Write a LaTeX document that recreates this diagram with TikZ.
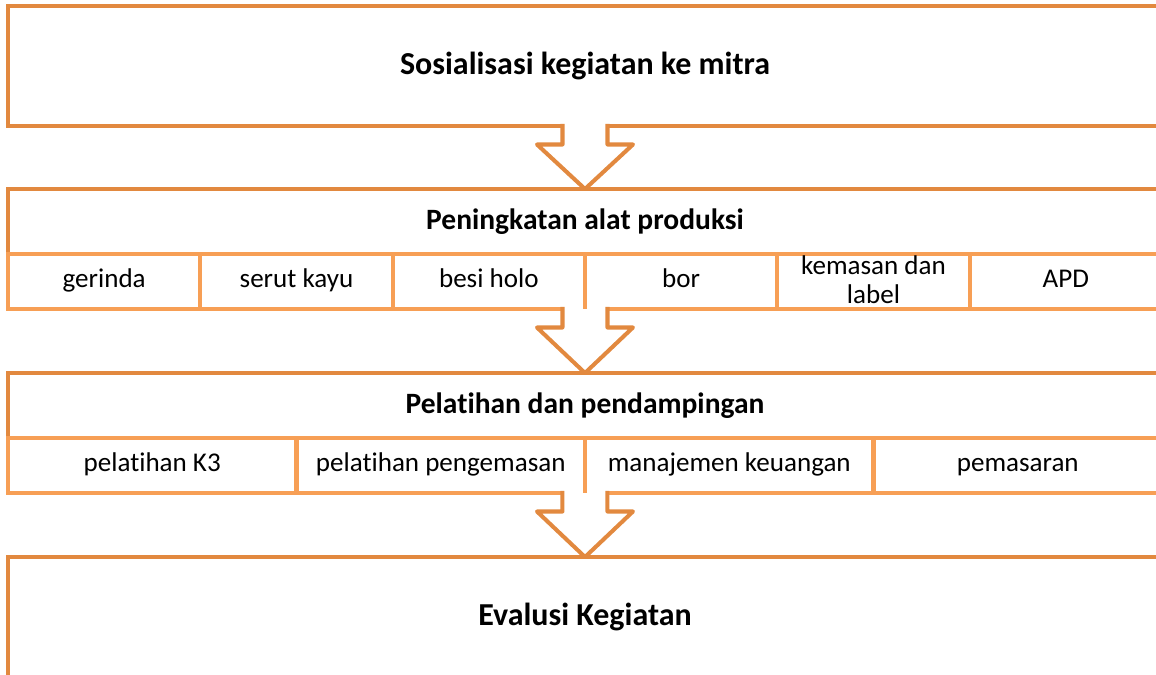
\documentclass[tikz,border=0pt]{standalone}
\usepackage{fontspec}
\setmainfont{Carlito}[Ligatures=NoCommon]
\usetikzlibrary{calc,positioning}
\definecolor{boxorange}{HTML}{E2893F}
\definecolor{cellorange}{HTML}{F79F55}
\tikzset{
	mainbox/.style={draw=boxorange, line width=2.3pt, fill=white, inner sep=0pt, outer sep=0pt, minimum width=23.08cm, font=\bfseries\fontsize{18.2}{22}\selectfont},
	headbox/.style={mainbox, minimum height=1.3cm, font=\bfseries\fontsize{16.8}{20}\selectfont},
	cellbox/.style={draw=cellorange, line width=2.3pt, inner sep=0pt, outer sep=0pt, minimum height=1.1cm, font=\fontsize{15.4}{16.5}\selectfont, align=center, text height=10pt, text depth=3pt},
	twoline/.style={text height=26pt, text depth=1pt},
	cellline/.style={draw=cellorange, line width=2.3pt},
	arrowline/.style={draw=boxorange, fill=white, line width=2.3pt, line join=round},
}
\newcommand{\flowarrow}[2]{%
	\fill[white] ($(#1)+(-20,-3)$) rectangle ($(#1)+(20,3)$);
	\filldraw[arrowline] ($(#1)+(-22.5,-2)$) -- ($(#1)+(-22.5,18.5)$) -- ($(#1)+(-48,18.5)$) -- (#2) -- ($(#1)+(48,18.5)$) -- ($(#1)+(22.5,18.5)$) -- ($(#1)+(22.5,-2)$);
}
\begin{document}
\begin{tikzpicture}[x=0.02cm, y=-0.02cm]
			\useasboundingbox (0,0) rectangle (1156,675);
			\clip (0,0) rectangle (1156,675);
			\node[mainbox, minimum height=2.4cm] (sosialisasi) at (585,66) {Sosialisasi kegiatan ke mitra};
			\node[headbox] (peningkatan) at (585,221.5) {Peningkatan alat produksi};
			\foreach \txt [count=\i] in {gerinda, serut kayu, besi holo, bor}
				\node[cellbox, minimum width=3.8467cm] (alat\i) at ({8+192.33*(\i-0.5)},281.5) {\txt};
			\node[cellbox, twoline, minimum width=3.8467cm, right=0pt of alat4] (alat5) {kemasan dan\\label};
			\node[cellbox, minimum width=3.8467cm, right=0pt of alat5] (alat6) {APD};
			\node[headbox] (pelatihan) at (585,405.5) {Pelatihan dan pendampingan};
			\foreach \txt [count=\i] in {pelatihan K3, pelatihan pengemasan, manajemen keuangan, pemasaran}
				\node[cellbox, minimum width=5.77cm] (latih\i) at ({8+288.5*(\i-0.5)},465.5) {\txt};
			\node[mainbox, minimum height=2.4cm] (evaluasi) at (585,617) {Evalusi Kegiatan};
			\flowarrow{sosialisasi.south}{peningkatan.north}
			\flowarrow{alat3.south east}{pelatihan.north}
			\flowarrow{latih2.south east}{evaluasi.north}
			\draw[cellline] (alat3.north east) -- (alat3.south east);
			\draw[cellline] (latih2.north east) -- (latih2.south east);
\end{tikzpicture}
\end{document}
